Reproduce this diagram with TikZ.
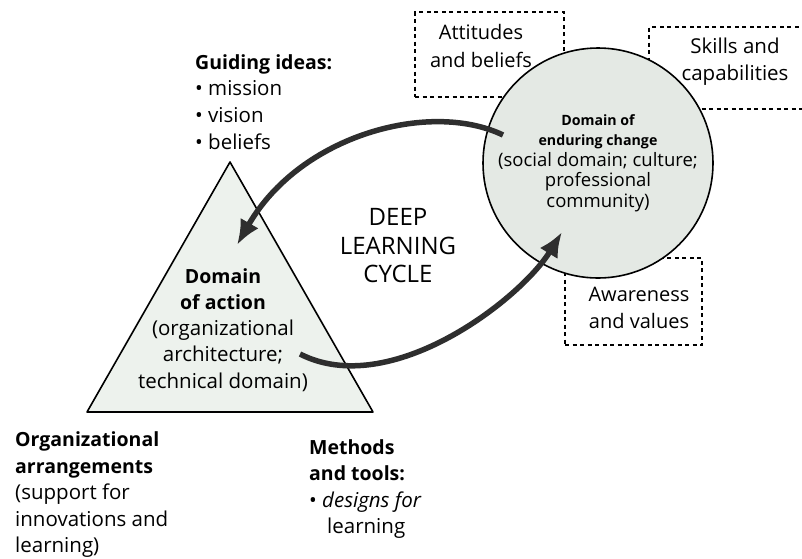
\documentclass[tikz,border=0pt]{standalone}
\usepackage{fontspec}
\setmainfont{Open Sans}
\usepackage{tikz}
\usetikzlibrary{calc}
\usetikzlibrary{arrows.meta}
\definecolor{changefill}{RGB}{228,233,228}
\definecolor{actionfill}{RGB}{237,242,237}

\begin{document}
\begin{tikzpicture}[x=1pt,y=-1pt]
\tikzstyle{dashbox}=[rectangle,draw,dash pattern=on 4pt off 3.5pt,line width=1.6pt,inner sep=0]
\tikzstyle{txt}=[align=center,inner sep=0,font=\fontsize{20}{27.5}\selectfont]
\tikzstyle{side}=[align=left,inner sep=0,anchor=west,font=\fontsize{20.5}{26.5}\selectfont]
\tikzstyle{cycle}=[draw=black!82,line width=5.5pt,-{Latex[length=25pt,width=21pt]}]
\newcommand{\bhead}[1]{{\bfseries\fontsize{19.5}{26.5}\selectfont #1}}
\useasboundingbox (0, 0) rectangle (802, 558);
% dashed boxes round the circle
\node[dashbox,minimum width=149,minimum height=85] at(489.5, 54.5) (attbox) {};
\node[dashbox,minimum width=180,minimum height=82] at(739, 68) (skillbox) {};
\node[dashbox,minimum width=137,minimum height=87] at(633.5, 301.5) (awarebox) {};
\node[txt] at(481, 46) (att) {Attitudes\\and beliefs};
\node[txt,font=\fontsize{20.5}{27}\selectfont] at(735, 62) (skill) {Skills and\\capabilities};
\node[txt] at(639, 308) (aware) {Awareness\\and values};
% domain of enduring change
\node[circle,draw,line width=1.6pt,fill=changefill,minimum size=230,inner sep=0,
      align=center,font=\fontsize{18.5}{20.5}\selectfont] at(598, 163) (change)
     {{\bfseries\fontsize{14.2}{20.5}\selectfont Domain of}\\
      {\bfseries\fontsize{14.2}{20.5}\selectfont enduring change}\\
      (social domain; culture;\\
      professional\\
      community)};
% domain of action
\coordinate (apex) at(230, 162);
\coordinate (bl) at(87, 412);
\coordinate (br) at(373, 412);
\draw[line width=1.6pt,line join=round,fill=actionfill] (apex) -- (br) -- (bl) -- cycle;
\node[txt,font=\fontsize{20.5}{26.2}\selectfont] at(223, 330) (action)
     {\bhead{Domain}\\
      \bhead{of action}\\
      (organizational\\
      architecture;\\
      technical domain)};
\node[txt,font=\fontsize{24}{28.5}\selectfont] at(398, 246) (deep) {DEEP\\LEARNING\\CYCLE};
% side texts
\node[side,font=\fontsize{20.5}{26.8}\selectfont] at(195, 102) (ideas)
     {\bhead{Guiding ideas:}\\
      \textbullet\ mission\\
      \textbullet\ vision\\
      \textbullet\ beliefs};
\node[side] at(15, 495) (arrange)
     {\bhead{Organizational}\\
      \bhead{arrangements}\\
      (support for\\
      innovations and\\
      learning)};
\node[side] at(309, 489) (methods)
     {\bhead{Methods}\\
      \bhead{and tools:}\\
      \textbullet\ \textit{designs for}\\
      \hspace*{18pt}learning};
% the cycle
\coordinate (ctail) at(503, 135);
\coordinate (ahead) at(237, 245);
\coordinate (atail) at(300, 354);
\coordinate (chead) at(562, 232);
\draw[cycle] (ctail) .. controls (430, 100) and (300, 135) .. (ahead);
\draw[cycle] (atail) .. controls (390, 400) and (520, 300) .. (chead);
\end{tikzpicture}
\end{document}
